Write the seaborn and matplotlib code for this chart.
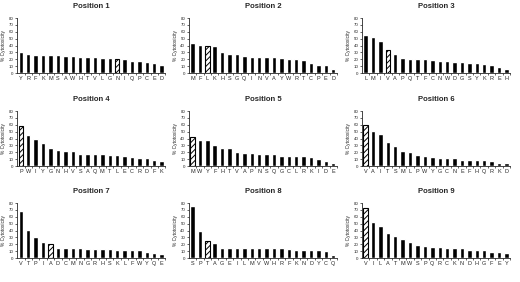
import matplotlib
matplotlib.use("Agg")
import matplotlib.pyplot as plt
import seaborn as sns

sns.set_style("ticks")
plt.rcParams['font.family'] = ['Liberation Sans', 'DejaVu Sans']
plt.rcParams['hatch.linewidth'] = 0.7

# Residues per position, ordered by cytotoxicity
pos1_letters = list("YRFKMSAWHTVLGNIQPCED")
pos1_values = [30, 28, 26, 26, 26, 26, 25, 25, 24, 24, 24, 22, 22, 21, 20, 18, 17, 16, 15, 11]
pos2_letters = list("MFLKHSGQINVAYWRTCPED")
pos2_values = [43, 41, 40, 39, 31, 27, 27, 25, 24, 24, 23, 23, 22, 21, 20, 19, 15, 12, 11, 6]
pos3_letters = list("LMIVAPQTFCNWDGSYKREH")
pos3_values = [56, 52, 47, 33, 27, 22, 21, 21, 20, 19, 18, 17, 16, 16, 15, 15, 13, 12, 9, 6]
pos4_letters = list("PWIYGNHVSAQMTLECRDFK")
pos4_values = [58, 45, 39, 33, 26, 23, 22, 22, 18, 18, 18, 17, 16, 16, 15, 13, 12, 12, 9, 8]
pos5_letters = list("MWYFHTVAPNSQGCLRKIDE")
pos5_values = [42, 38, 38, 31, 26, 26, 21, 19, 19, 18, 17, 17, 15, 15, 14, 14, 13, 10, 8, 5]
pos6_letters = list("VAITSMLPWYGCNEFHQRKD")
pos6_values = [60, 51, 46, 35, 29, 22, 20, 16, 14, 13, 12, 12, 12, 9, 9, 9, 9, 8, 5, 5]
pos7_letters = list("VTPIADCMNGRHSKLFWYQE")
pos7_values = [68, 41, 31, 24, 20, 15, 15, 15, 14, 13, 13, 13, 13, 12, 12, 12, 11, 9, 8, 6]
pos8_letters = list("SPTAGEILMVWHRFKNDYCQ")
pos8_values = [75, 40, 25, 22, 14, 14, 14, 14, 14, 14, 14, 14, 14, 13, 12, 11, 11, 11, 10, 5]
pos9_letters = list("VILATMWSPQRCKNDHGFEY")
pos9_values = [73, 52, 46, 37, 32, 27, 24, 19, 18, 16, 16, 14, 14, 14, 12, 11, 11, 9, 9, 7]

# index of the hatched (native) residue in each panel
hatched = [13, 2, 3, 0, 0, 0, 4, 2, 0]

panels = [
    (pos1_letters, pos1_values), (pos2_letters, pos2_values), (pos3_letters, pos3_values),
    (pos4_letters, pos4_values), (pos5_letters, pos5_values), (pos6_letters, pos6_values),
    (pos7_letters, pos7_values), (pos8_letters, pos8_values), (pos9_letters, pos9_values),
]

fig = plt.figure(figsize=(5.2, 2.82), dpi=100)
lefts = [0.033, 0.363, 0.696]
bottoms = [0.741, 0.411, 0.085]
w, h = 0.285, 0.195

for i, (letters, values) in enumerate(panels):
    ax = fig.add_axes([lefts[i % 3], bottoms[i // 3], w, h])
    sns.barplot(x=letters, y=values, color="black", width=0.6, saturation=1, ax=ax)
    bar = ax.patches[hatched[i]]
    bar.set_facecolor("white")
    bar.set_edgecolor("black")
    bar.set_hatch("//////")
    bar.set_linewidth(0.8)

    ax.set_ylim(0, 80)
    ax.set_xlim(-0.5, len(letters) - 0.5)
    ax.set_yticks(range(0, 81, 10))
    ax.set_xticks(range(len(letters)))
    ax.set_xticks([k + 0.5 for k in range(len(letters))], minor=True)
    ax.tick_params(axis="x", which="major", length=0, labelsize=4, pad=2)
    ax.tick_params(axis="x", which="minor", length=1.5, width=0.5, direction="out")
    ax.tick_params(axis="y", length=1.5, width=0.5, labelsize=3.2, pad=1)
    ax.set_ylabel("% Cytotoxicity", fontsize=3.5, labelpad=2)
    ax.set_title(f"Position {i + 1}", fontsize=5.5, fontweight="bold", pad=7)
    sns.despine(ax=ax)
    for s in ["left", "bottom"]:
        ax.spines[s].set_linewidth(0.6)

fig.savefig("out.png", dpi=100)
